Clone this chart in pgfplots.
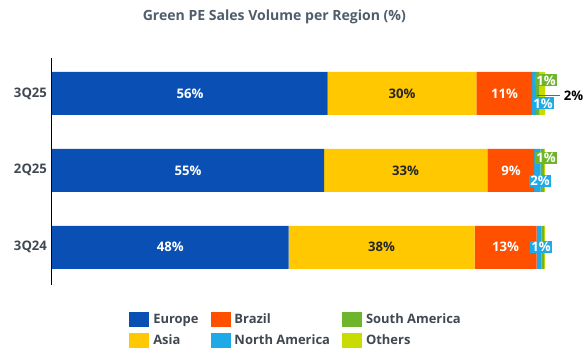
\documentclass[border=0pt]{standalone}
\usepackage{fontspec}
\setmainfont{Open Sans}
\usepackage{pgfplots}
\pgfplotsset{compat=1.18}
\definecolor{eur}{RGB}{10,80,180}
\definecolor{asi}{RGB}{255,200,0}
\definecolor{bra}{RGB}{255,80,0}
\definecolor{nam}{RGB}{30,170,230}
\definecolor{sam}{RGB}{110,180,45}
\definecolor{oth}{RGB}{200,220,0}
\definecolor{titlec}{RGB}{80,94,108}
\definecolor{tickc}{RGB}{64,72,82}
\newcommand{\lbl}{\bfseries\fontsize{13.2}{15}\selectfont}
\begin{document}
\begin{tikzpicture}
\useasboundingbox (-52bp,-75bp) rectangle (534bp,285bp);
\begin{axis}[
  at={(0,0)}, anchor=south west,
  scale only axis, width=493bp, height=227bp,
  xbar stacked, bar width=43bp,
  xmin=0, xmax=100, ymin=-0.49, ymax=2.46,
  axis x line=none, axis y line*=left,
  y axis line style={black, line width=1bp},
  ytick={0,1,2}, yticklabels={3Q24,2Q25,3Q25},
  major tick length=0pt,
  yticklabel style={font=\bfseries\fontsize{13.2}{15}\selectfont, text=tickc, xshift=-1.5bp},
  title={Green PE Sales Volume per Region (\%)},
  title style={at={(axis description cs:0.451,1)}, anchor=center, yshift=35bp,
    font=\bfseries\fontsize{14.1}{16}\selectfont, text=titlec},
  legend image code/.code={\fill[#1] (0bp,-7.5bp) rectangle (20bp,7.5bp);},
  legend columns=2, transpose legend, legend cell align=left,
  legend style={draw=none, at={(axis description cs:0.495,-0.198)}, anchor=center,
    font=\bfseries\fontsize{13}{14}\selectfont, text=tickc,
    /tikz/every even column/.append style={column sep=10bp},
    /tikz/every odd column/.append style={column sep=2bp},
    row sep=6bp},
  clip=false,
]
\addplot[fill=eur, draw=none] coordinates {(48.0,0) (55.2,1) (55.9,2)};
\addlegendentry{Europe}
\addplot[fill=asi, draw=none] coordinates {(37.7,0) (33.1,1) (30.2,2)};
\addlegendentry{Asia}
\addplot[fill=bra, draw=none] coordinates {(12.6,0) (9.5,1) (11.3,2)};
\addlegendentry{Brazil}
\addplot[fill=nam, draw=none] coordinates {(1.0,0) (1.3,1) (0.8,2)};
\addlegendentry{North America}
\addplot[fill=sam, draw=none] coordinates {(0.5,0) (0.7,1) (0.6,2)};
\addlegendentry{South America}
\addplot[fill=oth, draw=none] coordinates {(0.2,0) (0.2,1) (1.2,2)};
\addlegendentry{Others}
\end{axis}
\begin{axis}[
  at={(0,0)}, anchor=south west,
  scale only axis, width=493bp, height=227bp,
  xmin=0, xmax=100, ymin=-0.49, ymax=2.46,
  hide axis, clip=false,
  point meta=explicit symbolic,
]
% white labels
\addplot[draw=none, mark=none, nodes near coords,
  every node near coord/.style={anchor=center, text=white, font=\lbl}]
  coordinates {(24,0)[48\%] (27.6,1)[55\%] (28,2)[56\%]
               (92,0)[13\%] (93.1,1)[9\%] (91.8,2)[11\%]};
% Asia labels
\addplot[draw=none, mark=none, nodes near coords,
  every node near coord/.style={anchor=center, text=black!85, font=\lbl}]
  coordinates {(66.85,0)[38\%] (71.7,1)[33\%] (71,2)[30\%]};
% leader line for Others
\addplot[draw=black!60, line width=1bp, mark=none] coordinates {(98.4,1.97) (103.0,1.97)};
% North America boxes
\addplot[draw=none, mark=none, nodes near coords,
  every node near coord/.style={anchor=center, fill=nam, text=white, font=\lbl, inner sep=1.2bp}]
  coordinates {(99.2,0)[1\%] (99.0,0.86)[2\%] (99.6,1.87)[1\%]};
% South America boxes
\addplot[draw=none, mark=none, nodes near coords,
  every node near coord/.style={anchor=center, fill=sam, text=white, font=\lbl, inner sep=1.2bp}]
  coordinates {(100.2,1.16)[1\%] (100.2,2.17)[1\%]};
% Others label
\addplot[draw=none, mark=none, nodes near coords,
  every node near coord/.style={anchor=center, text=black, font=\lbl}]
  coordinates {(105.8,1.97)[2\%]};
\end{axis}
\end{tikzpicture}
\end{document}
